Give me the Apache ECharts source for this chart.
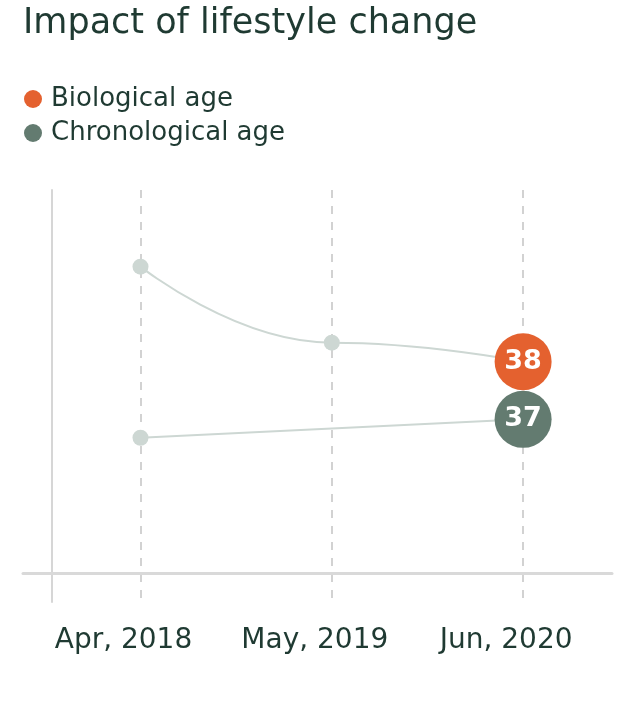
<!DOCTYPE html>
<html>
<head>
<meta charset="utf-8">
<script src="https://cdn.jsdelivr.net/npm/echarts@6/dist/echarts.min.js"></script>
<style>
  html, body { margin: 0; padding: 0; background: #fff; }
  #chart { width: 624px; height: 701px; }
</style>
</head>
<body>
<div id="chart"></div>
<script>
// 数据
var categories = ['Apr, 2018', 'May, 2019', 'Jun, 2020'];
var biologicalAge = [39.65, 38.33, 38];
var chronologicalAge = [36.68, null, 37];

var textColor = '#1f3a32';
var lineGrey = '#cdd7d3';
var orange = '#e4612f';
var green = '#637b70';

// 最后一个点画成大圆并显示数值
function buildData(values, color) {
    return values.map(function (v, i) {
        if (v === null) return [i, null];
        var last = i === values.length - 1;
        return {
            value: [i, v],
            symbolSize: last ? 57 : 16,
            itemStyle: { color: last ? color : lineGrey },
            label: {
                show: last,
                position: 'inside',
                formatter: function (p) { return p.value[1]; },
                color: '#fff',
                fontSize: 27,
                fontWeight: 'bold',
                fontFamily: 'DejaVu Sans'
            }
        };
    });
}

var chart = echarts.init(document.getElementById('chart'));

var option = {
    backgroundColor: '#fff',
    animation: false,
    textStyle: { fontFamily: 'DejaVu Sans' },
    title: {
        text: 'Impact of lifestyle change',
        left: 18,
        top: 1,
        textStyle: { fontSize: 35, fontWeight: 'normal', color: textColor }
    },
    legend: {
        orient: 'vertical',
        left: 19,
        top: 81,
        icon: 'circle',
        itemWidth: 26,
        itemHeight: 18,
        itemGap: 8,
        textStyle: { fontSize: 26, color: textColor },
        data: ['Biological age', 'Chronological age']
    },
    grid: { left: 23, right: 12, top: 190, bottom: 99 },
    xAxis: {
        type: 'value',
        min: -0.6142,
        max: 2.4647,
        offset: -29,
        axisLine: { show: true, onZero: false, lineStyle: { color: '#d9d9d9', width: 3 } },
        axisTick: { show: false, customValues: [0, 1, 2] },
        axisLabel: {
            customValues: [0, 1, 2],
            formatter: function (v) { return categories[v]; },
            margin: 54,
            padding: [0, 34, 0, 0],
            fontSize: 28,
            color: textColor
        },
        splitLine: {
            show: true,
            lineStyle: { color: '#d2d2d2', width: 2, type: [8, 8] }
        }
    },
    yAxis: {
        type: 'value',
        min: 33.83,
        max: 40.98,
        offset: -29,
        axisLine: { show: true, onZero: false, lineStyle: { color: '#d6d6d6', width: 2 } },
        axisTick: { show: false },
        axisLabel: { show: false },
        splitLine: { show: false }
    },
    series: [
        {
            name: 'Biological age',
            type: 'line',
            smooth: 0.5,
            smoothMonotone: 'x',
            symbol: 'circle',
            itemStyle: { color: orange },
            lineStyle: { color: lineGrey, width: 2 },
            z: 3,
            data: buildData(biologicalAge, orange)
        },
        {
            name: 'Chronological age',
            type: 'line',
            connectNulls: true,
            symbol: 'circle',
            itemStyle: { color: green },
            lineStyle: { color: lineGrey, width: 2 },
            z: 2,
            data: buildData(chronologicalAge, green)
        }
    ]
};

chart.setOption(option);
</script>
</body>
</html>
